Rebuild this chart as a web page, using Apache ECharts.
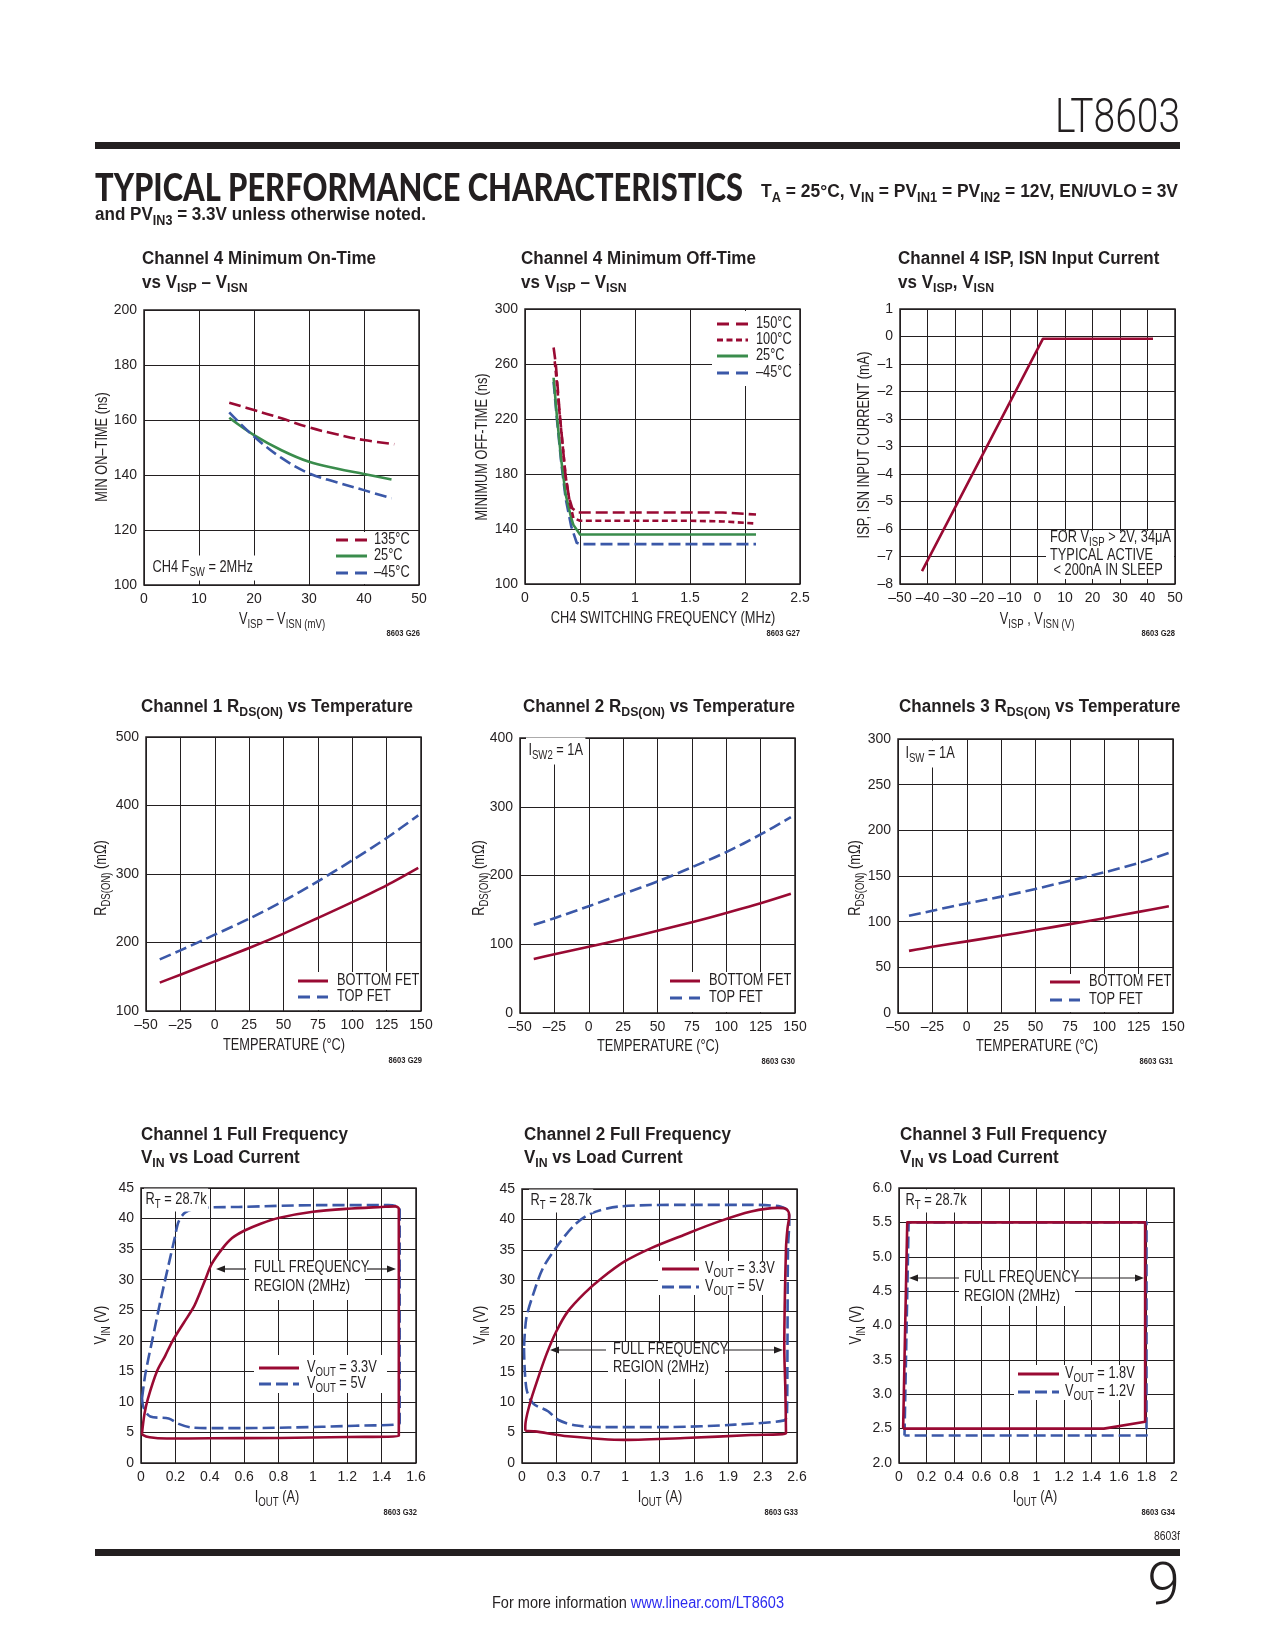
<!DOCTYPE html>
<html><head><meta charset="utf-8">
<script src="https://cdn.jsdelivr.net/npm/echarts@6/dist/echarts.min.js"></script>
<style>html,body{margin:0;padding:0;background:#fff}#c{width:1275px;height:1650px}</style>
</head><body><div id="c"></div>
<script>
// ================= DATA =================
// G26: Channel 4 minimum on-time vs VISP-VISN (mV -> ns)
const g26_135C = [[15.5,166.3],[20,163.6],[25,160.6],[30,157.3],[35,154.8],[40,152.7],[45.5,151.2]];
const g26_25C  = [[15.5,160.8],[20,154.5],[25,149],[30,144.8],[35,142.4],[40,140.4],[45,138.4]];
const g26_m45C = [[15.5,162.8],[20,154],[25,146.2],[30,140.6],[35,137.4],[40,134.5],[45,131.5]];
// G27: Channel 4 minimum off-time vs switching frequency (MHz -> ns)
const g27_150C = [[0.26,272],[0.28,260],[0.32,220],[0.367,180],[0.4,163],[0.43,155],[0.48,152],[1,152],[1.5,152],[1.8,152],[2.1,150.5]];
const g27_100C = [[0.27,262],[0.285,250],[0.325,215],[0.37,178],[0.41,158],[0.44,148],[0.5,146],[1,146],[1.5,146],[1.8,145.5],[2.1,144]];
const g27_25C  = [[0.26,250],[0.29,222],[0.33,190],[0.37,165],[0.42,148],[0.44,143],[0.5,136],[1,136],[1.5,136],[2.1,136]];
const g27_m45C = [[0.26,247],[0.29,220],[0.33,188],[0.37,162],[0.42,142],[0.47,130],[0.5,129],[1,129],[1.5,129],[2.1,129]];
// G28: ISP/ISN input current vs VISP (values in the axis' evenly spaced tick units)
const g28TickLabels = ['1','0','–1','–2','–3','–3','–4','–5','–6','–7','–8'];
const g28_current = [[-42,-8.53],[2,-0.08],[42,-0.08]];
// G29-G31: RDS(ON) vs temperature
const g29_bottom = [[-40,141.4],[-25,153],[0,172.5],[25,192],[50,213],[75,235.8],[100,259],[125,283.5],[148,309]];
const g29_top    = [[-40,175.4],[-25,188.5],[0,211.4],[25,234.8],[50,260.6],[75,289.3],[100,320],[125,352.5],[148,385.6]];
const g30_bottom = [[-40,78.6],[-25,85.5],[0,96.5],[25,107.5],[50,119.5],[75,132],[100,145.5],[125,159.5],[147,173.3]];
const g30_top    = [[-40,128.2],[-25,137.9],[0,155.3],[25,173.3],[50,191.3],[75,212],[100,234],[125,259.7],[147,285]];
const g31_bottom = [[-42,68.0],[-25,72.6],[0,78.4],[25,84.5],[50,90.8],[75,97.3],[100,103.8],[125,110.7],[147,116.8]];
const g31_top    = [[-42,106.5],[-25,112],[0,120],[25,127.4],[50,135.8],[75,144.9],[100,154],[125,164.2],[147,175.2]];
// G32: Channel 1 full frequency VIN vs load current (A -> V), closed loops
const g32_3v3 = [[0.006,4.9],[0.02,8],[0.04,10.5],[0.093,15],[0.14,17.5],[0.184,20],[0.25,23],[0.306,25.5],[0.345,28],[0.374,30],[0.41,32.5],[0.471,35],[0.53,36.8],[0.6,38],[0.7,39.2],[0.8,40.1],[1.0,41.1],[1.2,41.6],[1.4,41.9],[1.48,42],[1.5,41.6],[1.5,4.4],[1.2,4.25],[0.8,4.1],[0.4,4.05],[0.15,4.0],[0.05,4.2],[0.01,4.6],[0.006,4.9]];
const g32_5v  = [[0.006,10.6],[0.025,14.5],[0.064,19.9],[0.113,26.5],[0.161,32.5],[0.196,36.8],[0.219,39.5],[0.258,41],[0.336,41.7],[0.568,41.9],[1.053,42.2],[1.44,42.2],[1.49,42.0],[1.505,41.5],[1.505,6.5],[1.247,6.1],[0.859,5.8],[0.47,5.7],[0.297,5.8],[0.219,6.4],[0.161,7.3],[0.054,7.6],[0.016,9.0],[0.006,10.6]];
// G33: Channel 2
const g33TickLabels = ['0','0.3','0.7','1','1.3','1.6','1.9','2.3','2.6'];
const g33_3v3 = [[0.031,5.3],[0.12,5.2],[0.434,4.4],[0.97,3.8],[1.536,4.1],[2.166,4.6],[2.496,4.9],[2.49,12],[2.48,18.9],[2.496,35.3],[2.51,38.5],[2.527,40.7],[2.5,41.7],[2.417,41.9],[2.166,41.3],[1.851,39.6],[1.536,37.5],[1.221,35.3],[0.97,33.1],[0.749,30.3],[0.592,27.9],[0.434,24.9],[0.324,21.6],[0.23,17.8],[0.151,13.9],[0.072,9.6],[0.031,6],[0.031,5.3]];
const g33_5v  = [[0.019,18.9],[0.041,12.3],[0.104,9.8],[0.246,8.5],[0.34,7.1],[0.497,6.2],[0.749,5.9],[1.379,5.9],[2.01,6.3],[2.48,7.0],[2.505,7.9],[2.51,20],[2.515,35.3],[2.527,39.6],[2.518,41.3],[2.45,42.1],[2.166,42.4],[1.536,42.4],[0.907,42.1],[0.655,41.0],[0.497,39.1],[0.34,35.8],[0.198,32.0],[0.104,27.6],[0.041,23.8],[0.019,18.9]];
// G34: Channel 3
const g34_1v8 = [[0.03,2.5],[0.06,5.5],[1.79,5.5],[1.79,2.6],[1.49,2.5],[0.03,2.5]];
const g34_1v2 = [[0.04,2.4],[0.07,5.5],[1.8,5.5],[1.8,2.4],[0.04,2.4]];

// ================= STYLE / LAYOUT =================
const INK='#231f20', RED='#990a33', GRN='#3a8c4c', BLU='#3b58a8', LINK='#2b2bf0';
const mc=document.createElement('canvas').getContext('2d');
function mw(font,s){mc.font=font;return mc.measureText(s).width;}
function hasFont(f){const s='abcdefghijklmnopqrstuvwxyzABCDEFGHIJKLMNOPQRSTUVWXYZ0123456789';return mw('20px monospace',s)!==mw('20px "'+f+'",monospace',s);}
const NARROW=hasFont('Liberation Sans Narrow');
const FAM = NARROW?'"Liberation Sans Narrow", "Liberation Sans", sans-serif':'"Liberation Sans", sans-serif';
const AXS = NARROW?15.5:14;
const CSX = NARROW?1:0.8;   // horizontal condensing for free text

function parts(t){const out=[];const re=/_\{([^}]*)\}/g;let last=0,m;while((m=re.exec(t))){if(m.index>last)out.push(['n',t.slice(last,m.index)]);out.push(['s',m[1]]);last=re.lastIndex;}if(last<t.length)out.push(['n',t.slice(last)]);return out;}
function richStr(t){return parts(t).map(p=>'{'+p[0]+'|'+p[1]+'}').join('');}
function rw(t,size,sub,w,fam){return parts(t).reduce((a,p)=>a+mw(w+' '+(p[0]==='n'?size:sub)+'px '+fam,p[1]),0);}

function txt(x,y,t,o){o=o||{};const size=o.size||15,sub=o.sub||Math.round(size*0.74),w=o.w||'normal',fam=o.fam||FAM,col=o.color||INK;
  const H=Math.round(size*1.3),P=Math.round(size*0.62);
  const rich={n:{fontSize:size,fontFamily:fam,fontWeight:w,lineHeight:H,fill:col,color:col},
              s:{fontSize:sub,fontFamily:fam,fontWeight:w,lineHeight:H-P,padding:[P,0,0,0],fill:col,color:col}};
  if(o.extra)Object.assign(rich,o.extra);
  const el={type:'text',x:x,y:y,z:o.z||20,rotation:o.rot||0,scaleX:(o.sx!=null?o.sx:CSX),silent:true,
    style:{text:o.raw||richStr(t),rich:rich,align:o.align||'left',verticalAlign:'middle',textAlign:o.align||'left',textVerticalAlign:'middle',fill:col,font:w+' '+size+'px '+fam}};
  if(o.bg){el.style.backgroundColor=o.bg;el.style.padding=o.pad||[1,2];}
  return el;}
function rect(x,y,w,h){return {type:'rect',z:1,silent:true,shape:{x:x,y:y,width:w,height:h},style:{fill:'#fff'}};}
function seg(x1,y1,x2,y2,col,lw,dash){return {type:'line',z:20,silent:true,shape:{x1:x1,y1:y1,x2:x2,y2:y2},style:{stroke:col,lineWidth:lw,lineDash:dash||null,lineCap:'butt'}};}
function arrow(xFrom,xTip,y){const d=xTip<xFrom?1:-1;return [seg(xFrom,y,xTip+d*6,y,INK,1.2),{type:'polygon',z:20,silent:true,shape:{points:[[xTip,y],[xTip+d*9,y-3.5],[xTip+d*9,y+3.5]]},style:{fill:INK}}];}

const DL=[12,5], DS=[6,3.5];
const G=[[144,310,275,275],[525,309,275,275],[900,309,275,275],[146,737,275,274],[520,738,275,275],[898,739,275,274],[141,1188,275,275],[522,1189,275,274],[899,1188,275,275]];
const AX=[
  {x:[0,50,10],y:[100,200,20]},
  {x:[0,2.5,0.5],y:[100,300,40]},
  {x:[-50,50,10],y:[-9,1,1]},
  {x:[-50,150,25],y:[100,500,100]},
  {x:[-50,150,25],y:[0,400,100]},
  {x:[-50,150,25],y:[0,300,50]},
  {x:[0,1.6,0.2],y:[0,45,5]},
  {x:[0,2.6,0.325],y:[0,45,5]},
  {x:[0,2,0.2],y:[2,6,0.5]}
];
function num(v){v=parseFloat(v.toFixed(3));return v<0?'–'+(-v):String(v);}
const xFmt=[num,num,num,num,num,num,num,v=>g33TickLabels[Math.round(v/0.325)],num];
const yFmt=[num,num,v=>g28TickLabels[Math.round(1-v)],num,num,num,num,num,v=>v.toFixed(1)];

const grids=G.map(g=>({left:g[0],top:g[1],width:g[2],height:g[3],show:true,borderColor:INK,borderWidth:1.5,backgroundColor:'transparent',containLabel:false,outerBoundsMode:'none'}));
const lab={color:INK,fontSize:AXS,fontFamily:FAM};
const xAxes=AX.map((a,i)=>({gridIndex:i,type:'value',min:a.x[0],max:a.x[1],interval:a.x[2],axisLine:{show:false},axisTick:{show:false},
  axisLabel:Object.assign({margin:7,formatter:xFmt[i],showMinLabel:true,showMaxLabel:true},lab),splitLine:{show:true,lineStyle:{color:INK,width:1}}}));
const yAxes=AX.map((a,i)=>({gridIndex:i,type:'value',min:a.y[0],max:a.y[1],interval:a.y[2],axisLine:{show:false},axisTick:{show:false},
  axisLabel:Object.assign({margin:7,formatter:yFmt[i],showMinLabel:true,showMaxLabel:true},lab),splitLine:{show:true,lineStyle:{color:INK,width:1}}}));

function S(i,name,data,color,dash,smooth){return {type:'line',name:name,xAxisIndex:i,yAxisIndex:i,data:data,showSymbol:false,symbol:'none',smooth:smooth||false,silent:true,z:2,
  lineStyle:{color:color,width:2.6,type:dash||'solid',cap:'butt',join:'round'}};}
const series=[
  S(0,'135°C',g26_135C,RED,DL,0.4),S(0,'25°C',g26_25C,GRN,null,0.4),S(0,'–45°C',g26_m45C,BLU,DL,0.4),
  S(1,'–45°C',g27_m45C,BLU,DL),S(1,'25°C',g27_25C,GRN),S(1,'100°C',g27_100C,RED,DS),S(1,'150°C',g27_150C,RED,DL),
  S(2,'I',g28_current,RED),
  S(3,'TOP FET',g29_top,BLU,DL,0.3),S(3,'BOTTOM FET',g29_bottom,RED,null,0.3),
  S(4,'TOP FET',g30_top,BLU,DL,0.3),S(4,'BOTTOM FET',g30_bottom,RED,null,0.3),
  S(5,'TOP FET',g31_top,BLU,DL,0.3),S(5,'BOTTOM FET',g31_bottom,RED,null,0.3),
  S(6,'VOUT = 5V',g32_5v,BLU,DL,0.3),S(6,'VOUT = 3.3V',g32_3v3,RED,null,0.3),
  S(7,'VOUT = 5V',g33_5v,BLU,DL,0.3),S(7,'VOUT = 3.3V',g33_3v3,RED,null,0.3),
  S(8,'VOUT = 1.2V',g34_1v2,BLU,DL),S(8,'VOUT = 1.8V',g34_1v8,RED)
];

// ================= TEXT / GRAPHICS =================
const E=[];
// page header
E.push(txt(1180,120,'LT8603',{size:49,w:300,fam:'Roboto, "Liberation Sans"',align:'right',sx:125/mw('300 49px Roboto','LT8603')}));
E.push({type:'rect',z:5,silent:true,shape:{x:95,y:142,width:1085,height:7},style:{fill:INK}});
const HF='Lato, "DejaVu Sans", sans-serif';
E.push(txt(95,189,'TYPICAL PERFORMANCE CHARACTERISTICS',{size:38,w:900,fam:HF,sx:648/mw('900 38px '+HF,'TYPICAL PERFORMANCE CHARACTERISTICS')}));
const c1='T_{A} = 25°C, V_{IN} = PV_{IN1} = PV_{IN2} = 12V, EN/UVLO = 3V';
E.push(txt(761,192,c1,{size:19,sub:14,w:'bold',sx:417/rw(c1,19,14,'bold',FAM)}));
const c2='and PV_{IN3} = 3.3V unless otherwise noted.';
E.push(txt(95,215,c2,{size:19,sub:14,w:'bold',sx:331/rw(c2,19,14,'bold',FAM)}));
// footer
E.push(txt(1180,1536,'8603f',{size:13,align:'right'}));
E.push({type:'rect',z:5,silent:true,shape:{x:95,y:1549,width:1085,height:7},style:{fill:INK}});
E.push(txt(1180,1589,'9',{size:59,w:300,fam:'Roboto, "Liberation Sans"',align:'right',sx:1}));
const f1='For more information ', f2='www.linear.com/LT8603';
const fw=mw('16px '+FAM,f1+f2);
E.push(txt(638,1604,'',{size:16,align:'center',raw:'{n|'+f1+'}{l|'+f2+'}',sx:292/fw,extra:{l:{fontSize:16,fontFamily:FAM,lineHeight:21,fill:LINK,color:LINK}}}));

// chart titles
const TS=234/rw('Channel 4 Minimum On-Time',18,13,'bold',FAM);
function title(x,y,t){E.push(txt(x,y,t,{size:18,sub:13,w:'bold',sx:TS}));}
title(142,259,'Channel 4 Minimum On-Time'); title(142,283,'vs V_{ISP} – V_{ISN}');
title(521,259,'Channel 4 Minimum Off-Time'); title(521,283,'vs V_{ISP} – V_{ISN}');
title(898,259,'Channel 4 ISP, ISN Input Current'); title(898,283,'vs V_{ISP}, V_{ISN}');
title(141,707,'Channel 1 R_{DS(ON)} vs Temperature');
title(523,707,'Channel 2 R_{DS(ON)} vs Temperature');
title(899,707,'Channels 3 R_{DS(ON)} vs Temperature');
title(141,1135,'Channel 1 Full Frequency'); title(141,1158,'V_{IN} vs Load Current');
title(524,1135,'Channel 2 Full Frequency'); title(524,1158,'V_{IN} vs Load Current');
title(900,1135,'Channel 3 Full Frequency'); title(900,1158,'V_{IN} vs Load Current');

// axis names
function xn(x,y,t){E.push(txt(x,y,t,{size:16,align:'center'}));}
function yn(x,y,t){E.push(txt(x,y,t,{size:16,align:'center',rot:Math.PI/2}));}
xn(282,620,'V_{ISP} – V_{ISN (mV)}'); yn(103,447,'MIN ON–TIME (ns)');
xn(663,619,'CH4 SWITCHING FREQUENCY (MHz)'); yn(483,447,'MINIMUM OFF-TIME (ns)');
xn(1037,620,'V_{ISP} , V_{ISN (V)}'); yn(865,445,'ISP, ISN INPUT CURRENT (mA)');
xn(284,1046,'TEMPERATURE (°C)'); yn(102,878,'R_{DS(ON)} (mΩ)');
xn(658,1047,'TEMPERATURE (°C)'); yn(480,878,'R_{DS(ON)} (mΩ)');
xn(1037,1047,'TEMPERATURE (°C)'); yn(856,878,'R_{DS(ON)} (mΩ)');
xn(277,1498,'I_{OUT} (A)'); yn(102,1325,'V_{IN} (V)');
xn(660,1498,'I_{OUT} (A)'); yn(481,1325,'V_{IN} (V)');
xn(1035,1498,'I_{OUT} (A)'); yn(857,1325,'V_{IN} (V)');

// figure codes
function code(x,y,t){E.push(txt(x,y,t,{size:9.5,w:'bold',align:'right'}));}
code(420,633,'8603 G26'); code(800,633,'8603 G27'); code(1175,633,'8603 G28');
code(422,1060,'8603 G29'); code(795,1061,'8603 G30'); code(1173,1061,'8603 G31');
code(417,1512,'8603 G32'); code(798,1512,'8603 G33'); code(1175,1512,'8603 G34');

// legends
function legend(x1,x2,tx,rows){rows.forEach(r=>{E.push(seg(x1,r[0],x2,r[0],r[2],3,r[3]));E.push(txt(tx,r[0],r[1],{size:16}));});}
E.push(rect(331,532,87,52));
legend(336,367,374,[[540,'135°C',RED,[12,7]],[556,'25°C',GRN,null],[573,'–45°C',BLU,[12,7]]]);
E.push(txt(150,568,'CH4 F_{SW} = 2MHz',{size:16,bg:'#fff',pad:[2,3]}));
E.push(rect(712,311,87,75));
legend(717,748,756,[[324,'150°C',RED,[12,7]],[340,'100°C',RED,[6,3.5]],[356,'25°C',GRN,null],[373,'–45°C',BLU,[12,7]]]);
E.push(rect(1046,531,128,48));
E.push(txt(1050,538,'FOR V_{ISP} > 2V, 34μA',{size:16}));
E.push(txt(1050,556,'TYPICAL ACTIVE',{size:16}));
E.push(txt(1050,571,' < 200nA IN SLEEP',{size:16}));
E.push(rect(292,972,128,38));
legend(298,328,337,[[981,'BOTTOM FET',RED,null],[997,'TOP FET',BLU,[12,7]]]);
E.push(rect(665,972,129,40));
legend(670,700,709,[[981,'BOTTOM FET',RED,null],[998,'TOP FET',BLU,[12,7]]]);
E.push(txt(526,751,'I_{SW2} = 1A',{size:16,bg:'#fff',pad:[3,3]}));
E.push(rect(1045,974,127,38));
legend(1050,1080,1089,[[982,'BOTTOM FET',RED,null],[1000,'TOP FET',BLU,[12,7]]]);
E.push(txt(903,754,'I_{SW} = 1A',{size:16,bg:'#fff',pad:[3,3]}));
// G32
E.push(txt(144,1200,'R_{T} = 28.7k',{size:16,bg:'#fff',pad:[1,2]}));
E.push(rect(249,1261,116,39));
E.push(txt(254,1268,'FULL FREQUENCY',{size:16})); E.push(txt(254,1287,'REGION (2MHz)',{size:16}));
arrow(246,216,1269).forEach(e=>E.push(e)); arrow(367,396,1269).forEach(e=>E.push(e));
E.push(rect(254,1355,133,38));
legend(259,299,307,[[1368,'V_{OUT} = 3.3V',RED,null],[1384,'V_{OUT} = 5V',BLU,[12,5]]]);
// G33
E.push(txt(529,1201,'R_{T} = 28.7k',{size:16,bg:'#fff',pad:[1,2]}));
E.push(rect(658,1261,122,34));
legend(662,699,705,[[1269,'V_{OUT} = 3.3V',RED,null],[1287,'V_{OUT} = 5V',BLU,[12,5]]]);
E.push(rect(608,1342,117,37));
E.push(txt(613,1350,'FULL FREQUENCY',{size:16})); E.push(txt(613,1368,'REGION (2MHz)',{size:16}));
arrow(606,550,1350).forEach(e=>E.push(e)); arrow(725,783,1350).forEach(e=>E.push(e));
// G34
E.push(txt(904,1201,'R_{T} = 28.7k',{size:16,bg:'#fff',pad:[1,2]}));
E.push(rect(959,1270,116,36));
E.push(txt(964,1278,'FULL FREQUENCY',{size:16})); E.push(txt(964,1297,'REGION (2MHz)',{size:16}));
arrow(959,909,1278).forEach(e=>E.push(e)); arrow(1075,1144,1278).forEach(e=>E.push(e));
E.push(rect(1014,1365,131,35));
legend(1018,1059,1065,[[1374,'V_{OUT} = 1.8V',RED,null],[1392,'V_{OUT} = 1.2V',BLU,[12,5]]]);

const chart=echarts.init(document.getElementById('c'),null,{renderer:'canvas',width:1275,height:1650});
chart.setOption({animation:false,backgroundColor:'#fff',textStyle:{fontFamily:FAM,color:INK},
  grid:grids,xAxis:xAxes,yAxis:yAxes,series:series,graphic:{elements:E}});
</script></body></html>
